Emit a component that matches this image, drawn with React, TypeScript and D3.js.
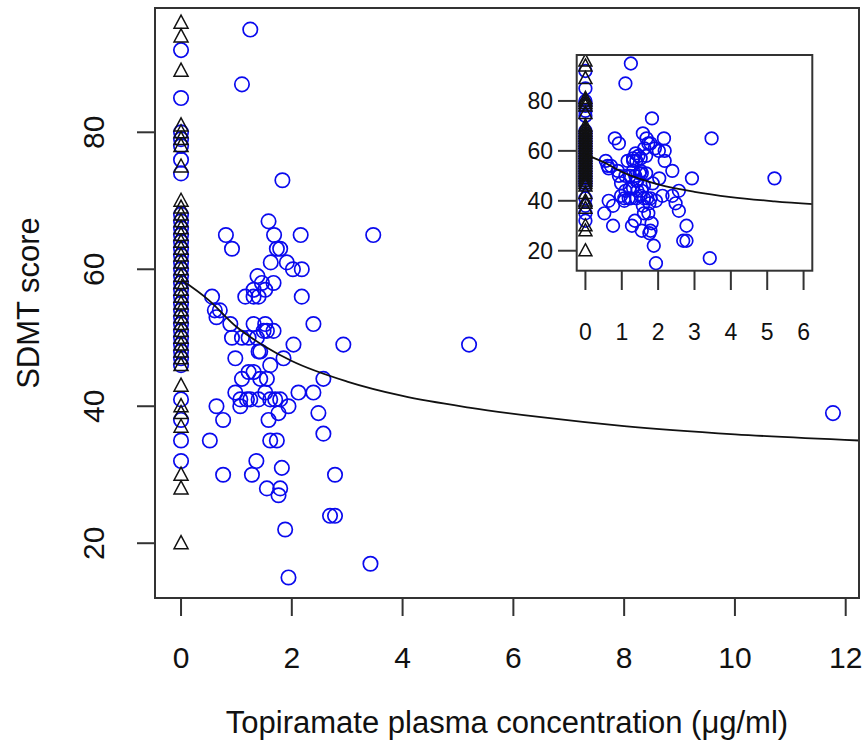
import React from 'react';
import * as d3 from 'd3';

// SDMT scores of patients with zero concentration
const zeroTriangles = [96, 94, 89, 81, 80, 79, 78, 75, 70, 69, 68, 67, 66, 65, 64, 63, 62, 61, 60, 59, 58, 57, 56, 55, 54, 53, 52, 51, 50, 49, 48, 47, 46, 43, 40, 39, 37, 30, 28, 20];
const zeroCircles = [92, 85, 80, 79, 78, 76, 74, 68, 67, 66, 65, 64, 63, 62, 61, 60, 59, 58, 57, 56, 55, 54, 53, 52, 51, 50, 49, 48, 47, 46, 41, 38, 35, 32];

// Topiramate concentration (µg/ml) and SDMT score
const concX = [1.25, 1.10, 1.83, 1.58, 0.81, 0.92, 1.68, 2.16, 1.73, 1.79, 1.62, 1.91, 2.02, 2.18, 1.67, 1.38, 1.46, 1.31, 1.52, 3.47,
  0.56, 1.16, 1.31, 1.40, 2.18, 0.61, 0.70, 0.64, 0.89, 1.31, 1.52, 2.39, 1.55, 1.49, 1.67, 0.92, 1.10, 1.22, 1.37,
  2.03, 2.93, 5.20, 1.43, 1.40, 0.98, 1.85, 1.61, 1.22, 1.31, 2.57, 1.10, 1.43, 1.55, 0.98, 2.12, 2.39, 1.52,
  1.07, 1.19, 1.25, 1.40, 1.61, 1.70, 1.79, 1.07, 1.94, 0.64, 1.76, 2.48, 11.77, 0.76, 1.58, 2.57, 0.52, 1.61, 1.73,
  1.36, 1.82, 0.76, 1.28, 2.78, 1.55, 1.79, 1.76, 2.69, 2.78, 1.88, 1.94, 3.42];
const concY = [95, 87, 73, 67, 65, 63, 65, 65, 63, 63, 61, 61, 60, 60, 58, 59, 58, 57, 57, 65,
  56, 56, 56, 56, 56, 54, 54, 53, 52, 52, 52, 52, 51, 51, 51, 50, 50, 50, 50,
  49, 49, 49, 48, 48, 47, 47, 46, 45, 45, 44, 44, 44, 44, 42, 42, 42, 42,
  41, 41, 41, 41, 41, 41, 41, 40, 40, 40, 39, 39, 39, 38, 38, 36, 35, 35, 35,
  32, 31, 30, 30, 30, 28, 28, 27, 24, 24, 22, 15, 17];

// fitted curve
const curveX = [0, 0.5, 1, 1.5, 2, 3, 4, 5.2, 6.5, 8, 10, 12.24];
const curveY = [58.5, 55.5, 51.6, 48.8, 46.6, 43.6, 41.5, 39.8, 38.4, 37.1, 35.9, 35.0];

const mainXTicks = [0, 2, 4, 6, 8, 10, 12];
const mainYTicks = [20, 40, 60, 80];
const insetXTicks = [0, 1, 2, 3, 4, 5, 6];
const insetYTicks = [20, 40, 60, 80];

const BLUE = '#0a0aee';
const FONT = '"Liberation Sans", Arial, Helvetica, sans-serif';

function triPath(cx: number, cy: number, s: number) {
  const h = s * 0.93;
  return `M${cx},${cy - h * 0.58}L${cx + s / 2},${cy + h * 0.42}L${cx - s / 2},${cy + h * 0.42}Z`;
}

function Panel(props: { x: d3.ScaleLinear<number, number>; y: d3.ScaleLinear<number, number>; id: string; r: number; tri: number; }) {
  const { x, y, id, r, tri } = props;
  const [x0, x1] = x.range();
  const [y0, y1] = y.range();
  const line = d3.line<number>().x((_, i) => x(curveX[i])).y((d) => y(d)).curve(d3.curveMonotoneX);
  const pts = concX.map((c, i) => ({ c, s: concY[i] })).filter((p) => p.c <= x.domain()[1]);
  return (
    <g>
      <defs>
        <clipPath id={id}>
          <rect x={x0} y={y1} width={x1 - x0} height={y0 - y1} />
        </clipPath>
      </defs>
      <rect x={x0} y={y1} width={x1 - x0} height={y0 - y1} fill="#fff" />
      <g clipPath={`url(#${id})`}>
        {zeroCircles.map((s, i) => (
          <circle key={'zc' + i} cx={x(0)} cy={y(s)} r={r} fill="none" stroke={BLUE} strokeWidth={1.7} />
        ))}
        {pts.map((p, i) => (
          <circle key={'c' + i} cx={x(p.c)} cy={y(p.s)} r={r} fill="none" stroke={BLUE} strokeWidth={1.7} />
        ))}
        {zeroTriangles.map((s, i) => (
          <path key={'t' + i} d={triPath(x(0), y(s), tri)} fill="none" stroke="#111" strokeWidth={1.5} />
        ))}
        <path d={line(curveY) || ''} fill="none" stroke="#111" strokeWidth={1.8} />
      </g>
      <rect x={x0} y={y1} width={x1 - x0} height={y0 - y1} fill="none" stroke="#333" strokeWidth={2} />
    </g>
  );
}

export default function App() {
  const x = d3.scaleLinear().domain([-0.47, 12.24]).range([155, 859]);
  const y = d3.scaleLinear().domain([12.0, 98.15]).range([598, 8]);
  const ix = d3.scaleLinear().domain([-0.24, 6.24]).range([576.7, 812.3]);
  const iy = d3.scaleLinear().domain([12.0, 98.4]).range([270.7, 55]);

  return (
    <svg width={866} height={744} style={{ position: 'absolute', left: 0, top: 0, background: '#fff' }} fontFamily={FONT}>
      <rect width={866} height={744} fill="#fff" />
      <Panel x={x} y={y} id="clipMain" r={7.2} tri={14} />
      {/* main axes */}
      {mainXTicks.map((t) => (
        <g key={'mx' + t}>
          <line x1={x(t)} x2={x(t)} y1={598} y2={616} stroke="#333" strokeWidth={2} />
          <text x={x(t)} y={668} textAnchor="middle" fontSize={30} fill="#111">{t}</text>
        </g>
      ))}
      {mainYTicks.map((t) => (
        <g key={'my' + t}>
          <line x1={137} x2={155} y1={y(t)} y2={y(t)} stroke="#333" strokeWidth={2} />
          <text transform={`translate(104,${y(t)}) rotate(-90)`} textAnchor="middle" fontSize={30} fill="#111">{t}</text>
        </g>
      ))}
      <text x={507} y={733} textAnchor="middle" fontSize={31} fill="#111">Topiramate plasma concentration (μg/ml)</text>
      <text transform={`translate(39,303) rotate(-90)`} textAnchor="middle" fontSize={31} fill="#111">SDMT score</text>

      {/* inset */}
      <Panel x={ix} y={iy} id="clipInset" r={6.3} tri={13} />
      {insetXTicks.map((t) => (
        <g key={'ix' + t}>
          <line x1={ix(t)} x2={ix(t)} y1={270.7} y2={290} stroke="#333" strokeWidth={2} />
          <text x={ix(t)} y={340} textAnchor="middle" fontSize={23} fill="#111">{t}</text>
        </g>
      ))}
      {insetYTicks.map((t) => (
        <g key={'iy' + t}>
          <line x1={558} x2={576.7} y1={iy(t)} y2={iy(t)} stroke="#333" strokeWidth={2} />
          <text x={553} y={iy(t) + 8} textAnchor="end" fontSize={23} fill="#111">{t}</text>
        </g>
      ))}
    </svg>
  );
}
